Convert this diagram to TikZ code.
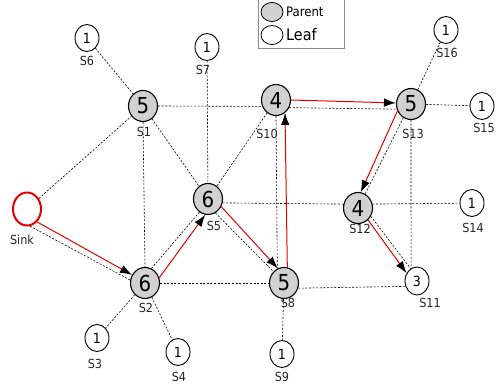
\documentclass[tikz,border=0pt]{standalone}
\usepackage{fontspec}
\setmainfont{DejaVu Sans Condensed}
\usepackage{tikz}
\usetikzlibrary{shapes.geometric}
\usetikzlibrary{arrows.meta}

\tikzset{
	parent/.style={ellipse, draw=black, line width=1.1pt, fill=black!18, minimum width=29pt, minimum height=31pt, inner sep=0pt, font=\fontsize{22}{22}\selectfont},
	leaf/.style={ellipse, draw=black, line width=0.9pt, fill=white, minimum width=24pt, minimum height=27pt, inner sep=0pt, font=\fontsize{14}{14}\selectfont},
	sink/.style={ellipse, draw=red!90!black, line width=2pt, minimum width=28pt, minimum height=33pt, inner sep=0pt},
	lab/.style={inner sep=0pt, text=black!85, font=\fontsize{12.5}{13}\selectfont},
	link/.style={line width=0.6pt, dash pattern=on 2pt off 1.6pt},
	route/.style={draw=red!90!black, line width=1pt, -{Latex[color=black, length=12pt, width=8.5pt]}}
}

\begin{document}
\begin{tikzpicture}[x=1pt, y=-1pt]
				\useasboundingbox (0, 0) rectangle (496, 390);

				% legend
				\draw[black!45, line width=0.5pt] (258, -5) rectangle (344, 48);
				\node[parent, minimum width=22pt, minimum height=19pt, line width=0.8pt](kp) at (272, 12) {};
				\node[leaf, minimum width=22pt, minimum height=19pt, line width=0.8pt](kl) at (272, 35) {};
				\node[anchor=west, inner sep=0pt, font=\fontsize{13}{13}\selectfont](tp) at (286, 12) {Parent};
				\node[anchor=west, inner sep=0pt, font=\fontsize{16}{16}\selectfont](tl) at (286, 35) {Leaf};

				% sensors
				\node[sink](sink) at (27, 209) {};
				\node[parent](s1) at (143, 106) {5};
				\node[parent](s2) at (145, 283) {6};
				\node[leaf](s3) at (97, 338) {1};
				\node[leaf](s4) at (178, 352) {1};
				\node[parent](s5) at (208, 199) {6};
				\node[leaf](s6) at (87, 38) {1};
				\node[leaf](s7) at (207, 47) {1};
				\node[parent](s8) at (284, 283) {5};
				\node[leaf](s9) at (282, 354) {1};
				\node[parent](s10) at (276, 100) {4};
				\node[leaf, minimum height=28pt](s11) at (417, 281) {3};
				\node[parent](s12) at (358, 208) {4};
				\node[parent](s13) at (411, 104) {5};
				\node[leaf](s14) at (472, 203) {1};
				\node[leaf](s15) at (482, 106) {1};
				\node[leaf](s16) at (446, 30) {1};

				% names
				\node[lab](n0) at (22, 240) {Sink};
				\node[lab](n1) at (144, 132) {S1};
				\node[lab](n2) at (146, 308) {S2};
				\node[lab](n3) at (95, 364) {S3};
				\node[lab](n4) at (179, 377) {S4};
				\node[lab](n5) at (214, 226) {S5};
				\node[lab](n6) at (87, 61) {S6};
				\node[lab](n7) at (203, 70) {S7};
				\node[lab](n8) at (288, 303) {S8};
				\node[lab](n9) at (282, 377) {S9};
				\node[lab](n10) at (267, 134) {S10};
				\node[lab](n11) at (430, 303) {S11};
				\node[lab](n12) at (360, 229) {S12};
				\node[lab](n13) at (413, 134) {S13};
				\node[lab](n14) at (473, 228) {S14};
				\node[lab](n15) at (484, 128) {S15};
				\node[lab](n16) at (447, 53) {S16};

				% radio links
				\draw[link] (sink.-80)--(s2.169);
				\draw[link] (sink)--(s1);
				\draw[link] (s6)--(s1);
				\draw[link] (s1.east)--(s10.-155);
				\draw[link] (s1.south)--(s2.north);
				\draw[link] (s1)--(s5);
				\draw[link] (s7)--(s5);
				\draw[link] (s10)--(s5);
				\draw[link] (s10.south)--(s8.115);
				\draw[link] (s10.-30)--(s13.-160);
				\draw[link] (s5.-15)--(s12.165);
				\draw[link] (s12.15)--(s14);
				\draw[link] (s2.66)--(s5.-123);
				\draw[link] (s5.-62)--(s8.133);
				\draw[link] (s2.east)--(s8.west);
				\draw[link] (s2)--(s3);
				\draw[link] (s2)--(s4);
				\draw[link] (s8)--(s9);
				\draw[link] (s8.-20)--(s11.-155);
				\draw[link] (s13.south)--(s11.115);
				\draw[link] (s13)--(s15);
				\draw[link] (s13)--(s16);
				\draw[link] (s13.-119)--(s12.63);
				\draw[link] (s12.-33)--(s11.117);

				% route to the sink
				\draw[route] (sink.-52)--(s2.148);
				\draw[route] (s2.20)--(s5.-100);
				\draw[route] (s5.-30)--(s8.113);
				\draw[route] (s8.78)--(s10.-55);
				\draw[route] (s10.east)--(s13.176);
				\draw[route] (s13.-153)--(s12.80);
				\draw[route] (s12.-50)--(s11.143);
			\end{tikzpicture}
\end{document}
